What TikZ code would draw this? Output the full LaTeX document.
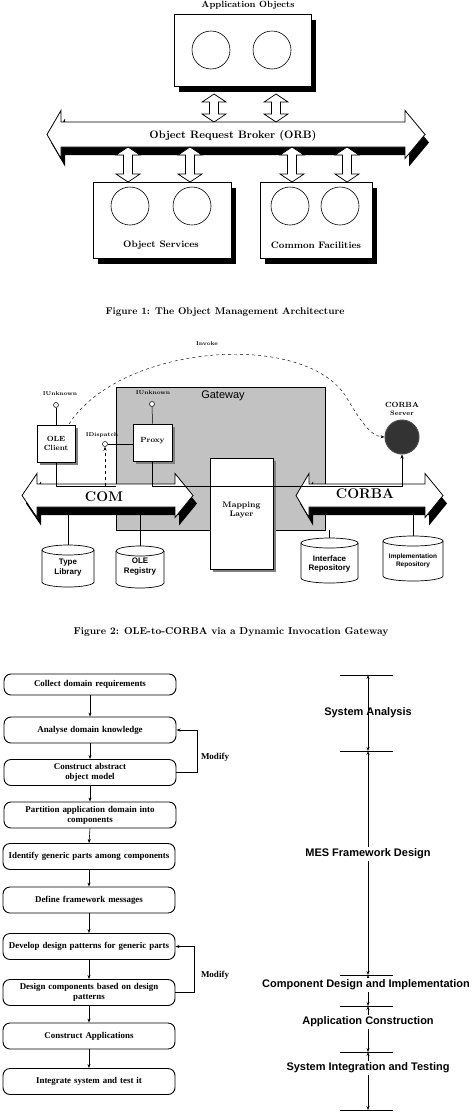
\documentclass[tikz,border=0pt]{standalone}
\usepackage{fontspec}
\newfontfamily\tnr{Liberation Serif}
\newfontfamily\ars{Liberation Sans}
\usetikzlibrary{arrows.meta,shadows}
\newcommand\vdarrow[3]{%
\draw[fill=white, line width=0.7pt] (#1-4.5,#2+8) -- (#1-12,#2+8) -- (#1,#2) -- (#1+12,#2+8) -- (#1+4.5,#2+8) -- (#1+4.5,#3-8) -- (#1+12,#3-8) -- (#1,#3) -- (#1-12,#3-8) -- (#1-4.5,#3-8) -- cycle;}
\newcommand\bigdarrow[7]{%
\fill[black, shift={(4,8)}] (#1,#5) -- (#2,#5-#7) -- (#2,#5-#6) -- (#3,#5-#6) -- (#3,#5-#7) -- (#4,#5) -- (#3,#5+#7) -- (#3,#5+#6) -- (#2,#5+#6) -- (#2,#5+#7) -- cycle;
\draw[fill=white, line width=0.8pt] (#1,#5) -- (#2,#5-#7) -- (#2,#5-#6) -- (#3,#5-#6) -- (#3,#5-#7) -- (#4,#5) -- (#3,#5+#7) -- (#3,#5+#6) -- (#2,#5+#6) -- (#2,#5+#7) -- cycle;}
\newcommand\dbcyl[5]{%
\draw[fill=white, line width=0.7pt] (#2-#5,#3) -- (#2-#5,#4) arc[start angle=180, end angle=360, x radius=#5pt, y radius=5pt] -- (#2+#5,#3) arc[start angle=0, end angle=180, x radius=#5pt, y radius=5pt] -- cycle;
\draw[line width=0.7pt] (#2-#5,#3) arc[start angle=180, end angle=360, x radius=#5pt, y radius=5pt];
\coordinate (#1) at (#2,#3-5);}
\begin{document}
\begin{tikzpicture}[x=1pt,y=-1pt,
  lmb/.style={font=\bfseries\fontsize{#1}{#1}\selectfont, inner sep=0pt, align=center},
  lmb/.default=9,
  sansb/.style={font=\ars\bfseries\fontsize{#1}{#1}\selectfont, inner sep=0pt, align=center},
  slab/.style={draw, line width=0.8pt, fill=white, drop shadow={shadow xshift=5pt, shadow yshift=-6pt, fill=black, opacity=1}},
  minibox/.style={draw, line width=0.7pt, fill=white, drop shadow={shadow xshift=3pt, shadow yshift=-3pt, fill=black!50, opacity=1}},
  orbc/.style={draw, line width=0.6pt, circle, minimum size=38pt, inner sep=0pt},
  lolly/.style={draw, line width=0.5pt, circle, fill=white, minimum size=5pt, inner sep=0pt},
  tip/.style={-{Stealth[length=4pt,width=3pt]}},
  procbox/.style={draw, line width=0.9pt, rounded corners=7pt, fill=white, minimum width=172pt, minimum height=26pt, text width=168pt, align=center, inner sep=1pt, font=\tnr\bfseries\fontsize{8.9}{9.8}\selectfont},
  phase/.style={font=\ars\bfseries\fontsize{11}{13}\selectfont, fill=white, inner sep=1.5pt},
  flowarr/.style={line width=0.6pt, -{Stealth[length=4pt,width=3pt]}},
  dimarr/.style={line width=0.7pt, {Stealth[length=4pt,width=3pt]}-{Stealth[length=4pt,width=3pt]}}
]
\useasboundingbox (0,0) rectangle (474,1114);

% ================= Figure 1 =================
\node[lmb=9] (apptitle) at (248,5) {Application Objects};
\node[slab, minimum width=137pt, minimum height=72pt] (app) at (242.5,50) {};
\node[orbc] (a1) at (211,50) {};
\node[orbc] (a2) at (272,50) {};
\vdarrow{214}{94}{122}
\vdarrow{276}{94}{122}
\bigdarrow{47}{61}{405}{425}{134.5}{12.5}{24}
\node[lmb=10.8] (orb) at (233,136) {Object Request Broker (ORB)};
\vdarrow{128}{147}{182}
\vdarrow{190}{147}{182}
\vdarrow{292}{147}{182}
\vdarrow{347}{147}{182}
\node[slab, minimum width=138pt, minimum height=76pt] (os) at (162,220) {};
\node[slab, minimum width=112pt, minimum height=76pt] (cf) at (316,220) {};
\node[orbc] (o1) at (130,206) {};
\node[orbc] (o2) at (192,206) {};
\node[orbc] (c1) at (290,206) {};
\node[orbc] (c2) at (340,206) {};
\node[lmb=9.4] (oslbl) at (161,245) {Object Services};
\node[lmb=9.4] (cflbl) at (316,245) {Common Facilities};
\node[lmb=9.8] (cap1) at (225,312) {Figure 1: The Object Management Architecture};

% ================= Figure 2 =================
\node[draw, line width=0.6pt, fill=black!24, minimum width=209pt, minimum height=143pt] (gw) at (220.5,458.5) {};
\node[font=\ars\fontsize{11}{12}\selectfont, inner sep=0pt] (gwlbl) at (223,396) {Gateway};
\bigdarrow{22}{37}{175}{193}{495.5}{11.5}{22}
\bigdarrow{296}{309}{425}{443}{495.5}{11.5}{22}
\node[lmb=14] (com) at (104,497) {COM};
\node[lmb=14] (corba) at (365,494) {CORBA};
\node[minibox, minimum width=63pt, minimum height=111pt] (map) at (241.5,513.5) {};
\node[lmb=8] (maplbl) at (241.5,510) {Mapping\\[1pt]Layer};
\node[minibox, minimum width=38pt, minimum height=37pt] (ole) at (56,443.5) {};
\node[lmb=7.5] (olelbl) at (56,443.5) {OLE\\[1pt]Client};
\node[minibox, minimum width=39pt, minimum height=37pt] (proxy) at (152.5,442.5) {};
\node[lmb=7.5] (proxylbl) at (152.5,441) {Proxy};
% lollipops
\node[lolly] (iu1) at (56,405) {};
\node[lmb=5.5] (iu1lbl) at (60,394) {IUnknown};
\draw[line width=0.5pt] (iu1) -- (ole.north);
\node[lolly] (iu2) at (152,404) {};
\node[lmb=5.5] (iu2lbl) at (153,393) {IUnknown};
\draw[line width=0.5pt] (iu2) -- (proxy.north);
\node[lolly] (idc) at (105,444) {};
\node[lmb=5.5] (idclbl) at (102,435) {IDispatch};
\draw[line width=0.5pt] (idc) -- (proxy.west |- idc);
\coordinate (idb) at (105,486);
\draw[dashed, line width=0.5pt, tip] (idb) -- (idc);
% CORBA server
\node[circle, draw=black!70, line width=1pt, fill=black!80, minimum size=34pt, inner sep=0pt] (srv) at (402,437) {};
\node[lmb=7.5] (srvlbl) at (402,409) {CORBA\\[1pt]{\fontsize{6.5}{7}\selectfont Server}};
% bus lines
\draw[line width=0.5pt] (ole.south) -- (ole.south |- 0,486) -- (gw.west |- 0,486);
\draw[line width=0.5pt, tip] (proxy.south) -- (proxy.south |- 0,486) -- (srv.south |- 0,486) -- (srv.south);
% invoke
\coordinate (invs) at (69,424);
\draw[dashed, line width=0.45pt, tip] (invs) .. controls (120,345) and (300,330) .. (345,395) .. controls (360,420) and (370,436) .. (srv.west);
\node[lmb=5.5] (invlbl) at (207,344) {Invoke};
% repositories
\dbcyl{tl}{68}{550}{582}{26}
\dbcyl{reg}{140}{551}{583}{24}
\dbcyl{ir}{329.5}{543}{578}{28.5}
\dbcyl{impl}{413}{541}{576}{30}
\node[sansb=8] (tllbl) at (68,568) {Type\\[2pt]Library};
\node[sansb=8] (reglbl) at (140,567) {OLE\\[2pt]Registry};
\node[sansb=8] (irlbl) at (329.5,564) {Interface\\[1pt]Repository};
\node[sansb=6.5] (impllbl) at (413,561) {Implementation\\[1pt]Repository};
\coordinate (tlb) at (68,515);
\coordinate (regb) at (140,515);
\coordinate (irb) at (329.5,530);
\coordinate (implb) at (413,515);
\draw[line width=0.5pt] (tlb) -- (tl);
\draw[line width=0.5pt] (regb) -- (reg);
\draw[line width=0.5pt] (irb) -- (ir);
\draw[line width=0.5pt] (implb) -- (impl);
\node[lmb=10] (cap2) at (231,632) {Figure 2: OLE-to-CORBA via a Dynamic Invocation Gateway};

% ================= Figure 3 =================
\node[procbox, minimum height=21pt] (b1) at (90,684.5) {Collect domain requirements};
\node[procbox] (b2) at (90,730) {Analyse domain knowledge};
\node[procbox] (b3) at (90,772.5) {Construct abstract\\object model};
\node[procbox] (b4) at (90,815) {Partition application domain into\\components};
\node[procbox] (b5) at (89,856.5) {Identify generic parts among components};
\node[procbox] (b6) at (89,900) {Define framework messages};
\node[procbox] (b7) at (89,946.5) {Develop design patterns for generic parts};
\node[procbox] (b8) at (89,992.5) {Design components based on design\\patterns};
\node[procbox] (b9) at (89,1036) {Construct Applications};
\node[procbox] (b10) at (89,1081.5) {Integrate system and test it};
\draw[flowarr] (b1.south) -- (b2.north);
\draw[flowarr] (b2.south) -- (b3.north);
\draw[flowarr] (b3.south) -- (b4.north);
\draw[flowarr] (b4.south) -- (b5.north);
\draw[flowarr] (b5.south) -- (b6.north);
\draw[flowarr] (b6.south) -- (b7.north);
\draw[flowarr] (b7.south) -- (b8.north);
\draw[flowarr] (b8.south) -- (b9.north);
\draw[flowarr] (b9.south) -- (b10.north);
\draw[line width=0.9pt, tip] (b3.east) -- ++(21,0) |- (b2.east);
\node[font=\tnr\bfseries\fontsize{9}{10}\selectfont, inner sep=0pt] (mod1) at (215,757) {Modify};
\draw[line width=0.9pt, tip] (b8.east) -- ++(19,0) |- (b7.east);
\node[font=\tnr\bfseries\fontsize{9}{10}\selectfont, inner sep=0pt] (mod2) at (215,975) {Modify};

% timeline
\foreach \n/\yy in {t1/675, t2/751, t3/975, t4/1006, t5/1052, t6/1110} {
  \coordinate (\n) at (368,\yy);
  \draw[line width=0.8pt] (340,\yy) -- (393,\yy);
}
\draw[dimarr] (t1) -- (t2);
\draw[dimarr] (t2) -- (t3);
\draw[dimarr] (t3) -- (t4);
\draw[dimarr] (t4) -- (t5);
\draw[dimarr] (t5) -- (t6);
\node[phase, fill=none] (p1) at (368,713) {System Analysis};
\node[phase] (p2) at (368,854) {MES Framework Design};
\node[phase] (p3) at (366,985) {Component Design and Implementation};
\node[phase] (p4) at (368,1022) {Application Construction};
\node[phase] (p5) at (368,1068) {System Integration and Testing};
\end{tikzpicture}
\end{document}
